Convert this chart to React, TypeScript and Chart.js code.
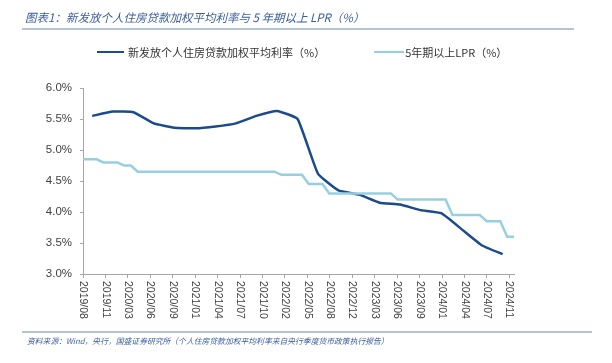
import React, { useEffect, useRef } from "react";
import { Chart, registerables } from "chart.js";

Chart.register(...registerables);

const TITLE = "图表1：新发放个人住房贷款加权平均利率与 5 年期以上 LPR（%）";
const SOURCE =
  "资料来源：Wind，央行，国盛证券研究所（个人住房贷款加权平均利率来自央行季度货币政策执行报告）";
const SERIES_LOAN = "新发放个人住房贷款加权平均利率（%）";
const SERIES_LPR = "5年期以上LPR（%）";

const X_TICK_LABELS = [
  "2019/08", "2019/11", "2020/03", "2020/06", "2020/09", "2021/01", "2021/04",
  "2021/07", "2021/10", "2022/02", "2022/05", "2022/08", "2022/12", "2023/03",
  "2023/06", "2023/09", "2024/01", "2024/04", "2024/07", "2024/11",
];

// Monthly 5Y LPR, from 2019/08 (20th of each month) to 2024/11
const LPR_START_YEAR = 2019;
const LPR_START_MONTH = 8;
const LPR_VALUES = [
  4.85, 4.85, 4.85, 4.8, 4.8, // 2019 Aug-Dec
  4.8, 4.75, 4.75, 4.65, 4.65, 4.65, 4.65, 4.65, 4.65, 4.65, 4.65, 4.65, // 2020
  4.65, 4.65, 4.65, 4.65, 4.65, 4.65, 4.65, 4.65, 4.65, 4.65, 4.65, 4.65, // 2021
  4.6, 4.6, 4.6, 4.6, 4.45, 4.45, 4.45, 4.3, 4.3, 4.3, 4.3, 4.3, // 2022
  4.3, 4.3, 4.3, 4.3, 4.3, 4.2, 4.2, 4.2, 4.2, 4.2, 4.2, 4.2, // 2023
  4.2, 3.95, 3.95, 3.95, 3.95, 3.95, 3.85, 3.85, 3.85, 3.6, 3.6, // 2024 Jan-Nov
];

// Quarterly weighted average rate of new individual housing loans
const LOAN_QUARTER_ENDS = [
  "2019-09-30", "2019-12-31", "2020-03-31", "2020-06-30", "2020-09-30",
  "2020-12-31", "2021-03-31", "2021-06-30", "2021-09-30", "2021-12-31",
  "2022-03-31", "2022-06-30", "2022-09-30", "2022-12-31", "2023-03-31",
  "2023-06-30", "2023-09-30", "2023-12-31", "2024-03-31", "2024-06-30",
  "2024-09-30",
];
const LOAN_VALUES = [
  5.55, 5.62, 5.61, 5.43, 5.36, 5.35, 5.38, 5.43, 5.55, 5.63, 5.5,
  4.62, 4.35, 4.28, 4.15, 4.12, 4.03, 3.98, 3.72, 3.46, 3.32,
];

const Y_MIN = 3.0;
const Y_MAX = 6.0;
const Y_STEP = 0.5;

const COLOR_LOAN = "#1b4a8d";
const COLOR_LPR = "#96d0e0";
const X_TICK_STEP = 3.28; // evenly spaced date labels (months)

function monthsFromStart(date: string): number {
  const [y, m, d] = date.split("-").map(Number);
  return (y - LPR_START_YEAR) * 12 + (m - LPR_START_MONTH) + (d - 20) / 30;
}

const rotatedXLabels = {
  id: "rotatedXLabels",
  afterDraw(chart: any) {
    const s = chart.scales.x;
    const ctx = chart.ctx;
    ctx.save();
    ctx.font = '10.5px "Liberation Sans"';
    ctx.fillStyle = "#404040";
    ctx.textAlign = "left";
    ctx.textBaseline = "middle";
    s.ticks.forEach((t: any, i: number) => {
      const x = s.getPixelForValue(t.value);
      ctx.save();
      ctx.translate(x, chart.chartArea.bottom + 7);
      ctx.rotate(Math.PI / 2);
      ctx.fillText(X_TICK_LABELS[i], 0, 0);
      ctx.restore();
    });
    ctx.restore();
  },
};

function LineChart() {
  const ref = useRef<HTMLCanvasElement | null>(null);
  useEffect(() => {
    if (!ref.current) return;
    const lprData = LPR_VALUES.map((v, i) => ({ x: i, y: v }));
    const loanData = LOAN_VALUES.map((v, i) => ({
      x: monthsFromStart(LOAN_QUARTER_ENDS[i]),
      y: v,
    }));
    const chart = new Chart(ref.current, {
      type: "line",
      data: {
        datasets: [
          {
            label: SERIES_LOAN,
            data: loanData,
            borderColor: COLOR_LOAN,
            backgroundColor: COLOR_LOAN,
            borderWidth: 2.5,
            pointRadius: 0,
            tension: 0.12,
            order: 1,
          },
          {
            label: SERIES_LPR,
            data: lprData,
            borderColor: COLOR_LPR,
            backgroundColor: COLOR_LPR,
            borderWidth: 2.5,
            pointRadius: 0,
            tension: 0,
            order: 0,
          },
        ],
      },
      options: {
        animation: false,
        responsive: false,
        layout: { padding: { top: 88, right: 98, bottom: 0, left: 0 } },
        plugins: {
          legend: { display: false },
          tooltip: { enabled: false },
          title: { display: false },
        },
        scales: {
          x: {
            type: "linear",
            min: 0,
            max: LPR_VALUES.length - 1,
            afterBuildTicks: (scale: any) => {
              scale.ticks = X_TICK_LABELS.map((label, i) => ({
                value: i * X_TICK_STEP,
                label,
              }));
            },
            afterFit: (scale: any) => {
              scale.height = 89;
            },
            ticks: { display: false },
            grid: {
              drawOnChartArea: false,
              drawTicks: true,
              tickLength: 4,
              color: "#a6a6a6",
            },
            border: { color: "#a6a6a6", width: 1 },
          },
          y: {
            min: Y_MIN,
            max: Y_MAX,
            afterFit: (scale: any) => {
              scale.width = 83;
            },
            ticks: {
              stepSize: Y_STEP,
              padding: 8,
              color: "#404040",
              font: { family: "Liberation Sans", size: 11.5 },
              callback: (v: any) => Number(v).toFixed(1) + "%",
            },
            grid: {
              drawOnChartArea: false,
              drawTicks: true,
              tickLength: 3,
              color: "#a6a6a6",
            },
            border: { color: "#a6a6a6", width: 1 },
          },
        },
      },
      plugins: [rotatedXLabels],
    });
    return () => chart.destroy();
  }, []);
  return (
    <canvas
      ref={ref}
      width={612}
      height={363}
      style={{ position: "absolute", left: 0, top: 0, width: 612, height: 363 }}
    />
  );
}

export default function App() {
  const cjk = '"Noto Sans CJK SC", "Liberation Sans", sans-serif';
  return (
    <div
      style={{
        position: "fixed",
        left: 0,
        top: 0,
        width: 612,
        height: 363,
        background: "#ffffff",
        overflow: "hidden",
      }}
    >
      <LineChart />
      <div
        style={{
          position: "absolute",
          left: 25,
          top: 9,
          fontFamily: cjk,
          fontStyle: "italic",
          fontSize: 11.5,
          lineHeight: "16px",
          color: "#3a5d9c",
          whiteSpace: "nowrap",
        }}
      >
        {TITLE}
      </div>
      <div
        style={{
          position: "absolute",
          left: 22,
          top: 28,
          width: 552,
          height: 2,
          background: "#b6c3d4",
        }}
      />
      <div
        style={{
          position: "absolute",
          left: 97,
          top: 44,
          display: "flex",
          alignItems: "center",
          fontFamily: cjk,
          fontSize: 11,
          lineHeight: "16px",
          color: "#333333",
          whiteSpace: "nowrap",
        }}
      >
        <span style={{ display: "inline-block", width: 27, height: 2.5, background: COLOR_LOAN, marginRight: 4 }} />
        <span>{SERIES_LOAN}</span>
        <span style={{ display: "inline-block", width: 49 }} />
        <span style={{ display: "inline-block", width: 30, height: 2.5, background: COLOR_LPR, marginRight: 1 }} />
        <span>{SERIES_LPR}</span>
      </div>
      <div
        style={{
          position: "absolute",
          left: 22,
          top: 331,
          width: 570,
          height: 2,
          background: "#b6c3d4",
        }}
      />
      <div
        style={{
          position: "absolute",
          left: 27,
          top: 335,
          fontFamily: cjk,
          fontStyle: "italic",
          fontSize: 7.8,
          lineHeight: "11px",
          color: "#3a5d9c",
          whiteSpace: "nowrap",
        }}
      >
        {SOURCE}
      </div>
    </div>
  );
}
